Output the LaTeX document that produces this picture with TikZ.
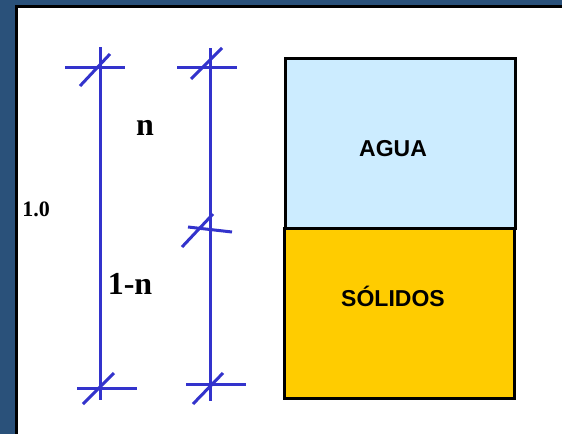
\documentclass[tikz,border=0pt]{standalone}
\usepackage{fontspec}
\setmainfont{Liberation Serif}
\newfontfamily\arialfont{Liberation Sans}
\usetikzlibrary{calc}
\definecolor{frameblue}{RGB}{42,81,122}
\definecolor{dimblue}{RGB}{51,51,204}
\definecolor{aguablue}{RGB}{204,236,255}
\definecolor{solidgold}{RGB}{255,204,0}
\def\slash(#1)(#2){\draw[dimline] (#1) -- (#2);}

\begin{document}
\begin{tikzpicture}[x=1pt,y=-1pt,
	dimline/.style={draw=dimblue,line width=3pt},
	phase/.style={draw=black,line width=3.8pt},
	bigtxt/.style={font=\fontsize{32}{32}\selectfont\bfseries},
	phasetxt/.style={font=\arialfont\fontsize{23}{23}\selectfont\bfseries}]
			%%%%% FRAME %%%%%
			\useasboundingbox (0, 0) rectangle (562, 434);
			\fill[frameblue] (0, 0) rectangle (562, 434);
			\fill[black] (15, 5) rectangle (562, 434);
			\fill[white] (17.5, 7.5) rectangle (562, 434);
			
			%%%%% LEFT DIMENSION %%%%%
			\draw[dimline] (100, 47) -- (100, 400);
			\draw[dimline] (65, 67) -- (125, 67);
			\slash(80, 86)(110, 54)
			\draw[dimline] (77, 388) -- (137, 388);
			\slash(83, 404)(114, 373)
			
			%%%%% RIGHT DIMENSION %%%%%
			\draw[dimline] (210, 48) -- (210, 401);
			\draw[dimline] (177, 67) -- (237, 67);
			\slash(191, 79)(222, 48)
			\draw[dimline] (188, 227) -- (232, 232);
			\slash(182, 247)(213, 214)
			\draw[dimline] (186, 384) -- (246, 384);
			\slash(193, 404)(223, 373)
			
			\node[bigtxt] (n) at (145, 128) {n};
			\node[bigtxt] (unomenos) at (130, 284) {1-n};
			\node[font=\fontsize{22}{22}\selectfont\bfseries] (uno) at (36, 209) {1.0};
			
			%%%%% PHASES %%%%%
			\draw[phase, fill=aguablue] (285.5, 58.5) rectangle (515.5, 228.5);
			\draw[phase, fill=solidgold] (284.5, 228.5) rectangle (514.5, 398.5);
			\node[phasetxt] (agua) at (393, 149) {AGUA};
			\node[phasetxt] (solidos) at (393, 296) {SÓLIDOS};
\end{tikzpicture}
\end{document}
